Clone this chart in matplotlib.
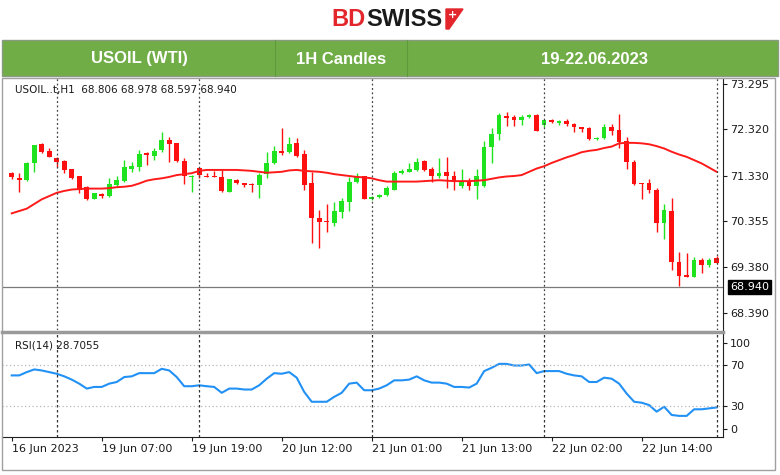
import numpy as np
import matplotlib
matplotlib.use("Agg")
import matplotlib.pyplot as plt
from matplotlib.patches import Rectangle, Polygon
from matplotlib.lines import Line2D

# ---------------------------------------------------------------------------
# Data (USOIL H1, 95 bars)
# ---------------------------------------------------------------------------
opens = [71.39, 71.27, 71.23, 71.59, 72.00, 71.85, 71.70, 71.64, 71.46, 71.31,
         71.08, 70.83, 70.93, 70.89, 71.13, 71.22, 71.48, 71.51, 71.81, 71.75,
         71.88, 72.09, 72.02, 71.65, 71.29, 71.50, 71.33, 71.32, 71.29, 70.98,
         71.23, 71.16, 71.15, 71.13, 71.36, 71.59, 71.86, 71.84, 72.02, 71.79,
         71.16, 70.41, 70.36, 70.32, 70.54, 70.77, 71.20, 71.31, 70.83, 70.86,
         70.91, 71.03, 71.38, 71.41, 71.45, 71.65, 71.46, 71.32, 71.41, 71.32,
         71.11, 71.21, 71.11, 71.11, 71.95, 72.23, 72.61, 72.58, 72.51, 72.59,
         72.63, 72.41, 72.52, 72.46, 72.50, 72.43, 72.36, 72.34, 72.11, 72.13,
         72.38, 72.31, 72.06, 71.63, 71.18, 71.16, 71.03, 70.32, 70.58, 69.48,
         69.19, 69.16, 69.52, 69.41, 69.56]
highs = [71.41, 71.38, 71.63, 71.99, 72.03, 71.91, 71.73, 71.66, 71.48, 71.33,
         71.11, 70.96, 70.95, 71.27, 71.31, 71.66, 71.63, 71.88, 71.84, 71.91,
         72.27, 72.15, 72.03, 71.70, 71.34, 71.52, 71.39, 71.43, 71.45, 71.26,
         71.25, 71.18, 71.16, 71.39, 71.84, 71.96, 72.34, 72.16, 72.13, 71.88,
         71.41, 70.59, 70.73, 70.77, 70.84, 71.29, 71.38, 71.32, 70.89, 70.93,
         71.11, 71.43, 71.48, 71.59, 71.70, 71.66, 71.52, 71.70, 71.72, 71.43,
         71.46, 71.27, 71.46, 72.06, 72.34, 72.68, 72.70, 72.63, 72.63, 72.65,
         72.64, 72.53, 72.54, 72.51, 72.54, 72.45, 72.38, 72.38, 72.16, 72.43,
         72.43, 72.65, 72.16, 71.66, 71.18, 71.25, 71.07, 70.71, 70.84, 69.70,
         69.66, 69.59, 69.56, 69.56, 69.61]
lows = [71.25, 70.98, 71.22, 71.41, 71.82, 71.73, 71.52, 71.38, 71.26, 70.95,
        70.81, 70.82, 70.84, 70.88, 71.11, 71.20, 71.41, 71.43, 71.56, 71.66,
        71.84, 71.61, 71.63, 71.15, 70.98, 71.27, 71.29, 71.29, 70.97, 70.98,
        71.15, 71.09, 70.98, 70.84, 71.27, 71.57, 71.77, 71.81, 71.73, 71.02,
        69.88, 69.77, 70.13, 70.25, 70.43, 70.56, 71.18, 70.82, 70.81, 70.84,
        70.89, 71.01, 71.36, 71.40, 71.43, 71.43, 71.20, 71.27, 71.06, 71.03,
        71.06, 71.02, 70.82, 71.09, 71.59, 72.09, 72.39, 72.39, 72.41, 72.56,
        72.28, 72.38, 72.46, 72.41, 72.39, 72.26, 72.27, 72.09, 72.10, 72.11,
        72.20, 71.93, 71.48, 71.13, 70.82, 70.95, 70.11, 69.96, 69.31, 68.96,
        69.16, 69.15, 69.25, 69.38, 69.45]
closes = [71.30, 71.23, 71.60, 71.98, 71.83, 71.73, 71.63, 71.45, 71.28, 71.02,
          70.83, 70.95, 70.89, 71.15, 71.23, 71.51, 71.53, 71.79, 71.76, 71.86,
          72.09, 72.00, 71.65, 71.31, 71.33, 71.34, 71.30, 71.30, 70.99, 71.25,
          71.16, 71.13, 71.12, 71.34, 71.59, 71.86, 71.81, 72.00, 71.75, 71.13,
          70.41, 70.33, 70.33, 70.56, 70.78, 71.20, 71.31, 70.83, 70.86, 70.91,
          71.06, 71.39, 71.43, 71.47, 71.63, 71.45, 71.32, 71.39, 71.32, 71.20,
          71.22, 71.11, 71.31, 71.95, 72.23, 72.63, 72.56, 72.52, 72.59, 72.63,
          72.29, 72.52, 72.48, 72.50, 72.43, 72.36, 72.32, 72.11, 72.14, 72.38,
          72.29, 72.04, 71.61, 71.15, 71.15, 71.01, 70.32, 70.59, 69.48, 69.18,
          69.16, 69.51, 69.41, 69.51, 69.46]
ma_line = [70.52, 70.57, 70.62, 70.72, 70.82, 70.89, 70.96, 71.00, 71.03, 71.04,
           71.05, 71.05, 71.05, 71.06, 71.08, 71.09, 71.11, 71.16, 71.22, 71.25,
           71.27, 71.30, 71.34, 71.36, 71.38, 71.43, 71.45, 71.45, 71.45, 71.45,
           71.45, 71.44, 71.43, 71.41, 71.39, 71.40, 71.41, 71.44, 71.45, 71.43,
           71.42, 71.41, 71.39, 71.36, 71.34, 71.32, 71.30, 71.29, 71.27, 71.23,
           71.20, 71.20, 71.20, 71.20, 71.20, 71.21, 71.22, 71.23, 71.22, 71.21,
           71.21, 71.21, 71.22, 71.23, 71.26, 71.29, 71.31, 71.32, 71.34, 71.41,
           71.48, 71.53, 71.60, 71.66, 71.72, 71.77, 71.83, 71.86, 71.88, 71.92,
           71.95, 72.02, 72.03, 72.03, 72.02, 72.00, 71.96, 71.91, 71.84, 71.78,
           71.73, 71.66, 71.59, 71.50, 71.41]
rsi = [59.8, 59.8, 63.0, 65.6, 64.6, 63.0, 61.4, 58.9, 55.7, 51.8,
       47.0, 48.6, 48.6, 51.8, 53.4, 58.2, 58.9, 62.0, 62.0, 62.0,
       66.2, 64.6, 58.2, 49.3, 49.3, 50.2, 49.3, 48.6, 42.9, 47.0,
       47.0, 46.1, 46.1, 50.2, 56.6, 62.0, 61.4, 63.0, 57.6, 43.8,
       34.2, 34.2, 34.2, 39.0, 42.9, 51.8, 52.8, 45.4, 45.4, 47.0,
       50.2, 55.0, 55.0, 55.7, 58.9, 55.0, 52.8, 52.8, 51.8, 48.6,
       48.6, 48.0, 51.8, 64.0, 67.2, 71.0, 71.0, 69.4, 69.4, 70.4,
       62.0, 64.0, 64.0, 64.0, 61.4, 59.8, 58.9, 53.4, 53.4, 57.6,
       56.6, 51.8, 42.2, 34.2, 33.3, 31.0, 24.6, 29.4, 21.4, 20.5,
       20.5, 26.9, 26.9, 27.8, 28.7]

day_breaks = [6, 25, 48, 71, 94]
time_ticks = [0, 12, 24, 36, 48, 60, 72, 84]
time_labels = ["16 Jun 2023", "19 Jun 07:00", "19 Jun 19:00", "20 Jun 12:00",
               "21 Jun 01:00", "21 Jun 13:00", "22 Jun 02:00", "22 Jun 14:00"]
price_ticks = [68.390, 69.380, 70.355, 71.330, 72.320, 73.295]
last_price = 68.940

GREEN = "#1EE31E"
RED = "#FF1010"
W, H = 780, 475


def fx(px):
    return px / W


def fy(py):
    return 1 - py / H


fig = plt.figure(figsize=(7.8, 4.75), dpi=100)
fig.patch.set_facecolor("white")

# --- header: logo + green band ---------------------------------------------
fig.text(fx(366), fy(19), "BD", color="#E3262B", fontsize=17, fontweight="bold",
         family="Liberation Sans", ha="right", va="center")
fig.text(fx(366), fy(19), "SWISS", color="#1A1A1A", fontsize=17, fontweight="bold",
         family="Liberation Sans", ha="left", va="center")
fig.patches.append(Polygon([(fx(446), fy(9)), (fx(463), fy(9)), (fx(449), fy(29)),
                            (fx(446), fy(29))], closed=True, color="#E3262B",
                           transform=fig.transFigure))
fig.text(fx(452), fy(15), "+", color="white", fontsize=8, fontweight="bold",
         ha="center", va="center")

fig.patches.append(Rectangle((fx(2), fy(76)), fx(776), 36 / H, facecolor="#70AD47",
                             edgecolor="#8A9A80", lw=1, transform=fig.transFigure))
for xd in [275, 407]:
    fig.lines.append(Line2D([fx(xd), fx(xd)], [fy(76), fy(40)], color="#5E9A3A",
                            lw=0.8, transform=fig.transFigure))
for txt, xc in [("USOIL (WTI)", 139), ("1H Candles", 341), ("19-22.06.2023", 594)]:
    fig.text(fx(xc), fy(59), txt, color="white", fontsize=12, fontweight="bold",
             family="Liberation Sans", ha="center", va="center")

# outer frame of the chart window
fig.patches.append(Rectangle((fx(2), fy(470)), fx(773), (470 - 78) / H, fill=False,
                             edgecolor="#A0A0A0", lw=1, transform=fig.transFigure))

# --- main price panel ------------------------------------------------------
ax = fig.add_axes([fx(2), fy(330), fx(721), (330 - 78) / H])
x = np.arange(len(closes))
o = np.array(opens)
c = np.array(closes)
cols = [GREEN if cc >= oo else RED for oo, cc in zip(o, c)]
ax.vlines(x, lows, highs, colors=cols, lw=1)
ax.bar(x, np.maximum(np.abs(c - o), 0.025), bottom=np.minimum(o, c), width=0.62,
       color=cols, linewidth=0)
ax.plot(x, ma_line, color="#FF1A1A", lw=1.4)
ax.axhline(last_price, color="#7A7A7A", lw=0.9)
for b in day_breaks:
    ax.axvline(b, color="#444444", lw=0.9, ls=(0, (1.5, 2)))

ax.set_xlim(-1.3, 94.85)
ax.set_ylim(68.02, 73.42)
ax.set_xticks([])
ax.yaxis.tick_right()
ax.set_yticks(price_ticks)
ax.set_yticklabels([f"{v:.3f}" for v in price_ticks])
ax.tick_params(axis="y", labelsize=8, colors="#1A1A1A", length=3, pad=2)
for s in ["top", "left", "bottom"]:
    ax.spines[s].set_visible(False)
ax.spines["right"].set_color("#202020")
ax.annotate(f"{last_price:.3f}", xy=(1.0, last_price), xycoords=("axes fraction", "data"),
            xytext=(5, 0), textcoords="offset points", fontsize=8, color="white",
            va="center", ha="left",
            bbox=dict(boxstyle="square,pad=0.15", fc="black", ec="black"))
fig.text(fx(15), fy(90), "USOIL..t,H1  68.806 68.978 68.597 68.940", fontsize=7.5,
         color="#1A1A1A", va="center")

# panel separator
fig.lines.append(Line2D([fx(2), fx(723)], [fy(332), fy(332)], color="#9A9A9A", lw=2.5,
                        transform=fig.transFigure))

# --- RSI panel ---------------------------------------------------------------
ax2 = fig.add_axes([fx(2), fy(437), fx(721), (437 - 334) / H])
ax2.plot(x, rsi, color="#2291F5", lw=1.5)
for lvl in [70, 30]:
    ax2.axhline(lvl, color="#B8B8B8", lw=0.9, ls=(0, (1, 2)))
for b in day_breaks:
    ax2.axvline(b, color="#333333", lw=0.9, ls=(0, (2, 2)))
ax2.set_xlim(-1.3, 94.85)
ax2.set_ylim(0, 100)
ax2.yaxis.tick_right()
ax2.set_yticks([8, 30, 69.5, 91.5])
ax2.set_yticklabels(["0", "30", "70", "100"])
ax2.tick_params(axis="y", labelsize=8, colors="#1A1A1A", length=3, pad=2)
ax2.set_xticks(time_ticks)
ax2.set_xticklabels(time_labels, ha="left")
ax2.tick_params(axis="x", labelsize=8, colors="#1A1A1A", length=3, pad=2)
for s in ["top", "left"]:
    ax2.spines[s].set_visible(False)
ax2.spines["right"].set_color("#202020")
ax2.spines["bottom"].set_color("#202020")
fig.text(fx(15), fy(346), "RSI(14) 28.7055", fontsize=7.5, color="#1A1A1A", va="center")

fig.savefig("out.png", dpi=100)
